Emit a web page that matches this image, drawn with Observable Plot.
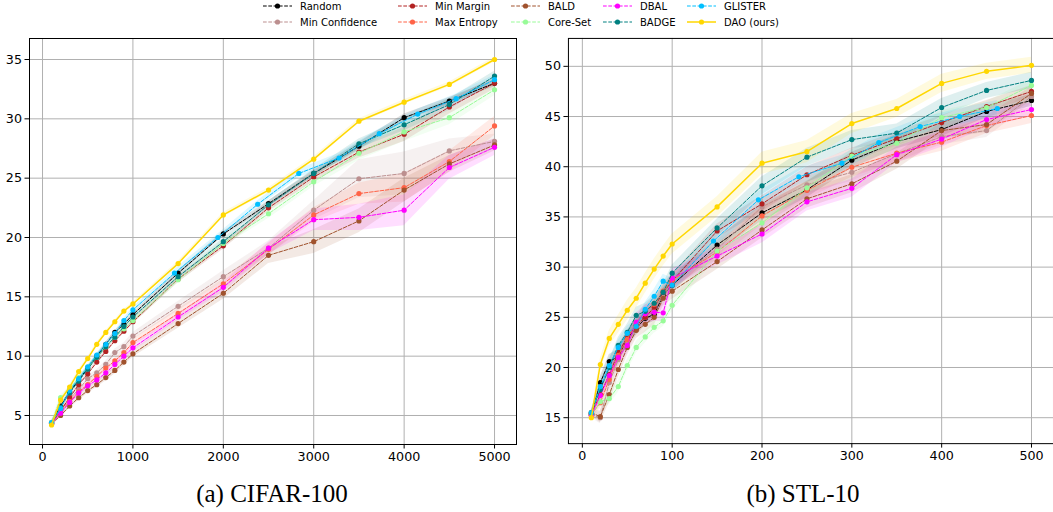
<!DOCTYPE html>
<html><head><meta charset="utf-8">
<script src="https://cdn.jsdelivr.net/npm/d3@7"></script>
<script src="https://cdn.jsdelivr.net/npm/@observablehq/plot@0.6"></script>
<style>
html,body{margin:0;padding:0;background:#fff;width:1053px;height:512px;overflow:hidden;}
#wrap{position:relative;width:1053px;height:512px;}
#legend{position:absolute;left:0;top:0;width:1053px;height:32px;font-family:"DejaVu Sans";font-size:10px;color:#000;z-index:2;}
.item{position:absolute;display:flex;align-items:center;white-space:nowrap;height:14px;}
.item span{margin-left:8px;}
.cap{position:absolute;font-family:"Liberation Serif";font-size:25px;line-height:30px;color:#000;white-space:nowrap;transform:translateX(-50%);top:479px;}
#c1{position:absolute;left:0;top:0;}
#c2{position:absolute;left:530px;top:0;}
</style>
</head><body>
<div id="wrap">
  <div id="c1"></div>
  <div id="c2"></div>
  <div id="legend"></div>
  <div class="cap" style="left:272px">(a) CIFAR-100</div>
  <div class="cap" style="left:803px">(b) STL-10</div>
</div>
<script>
// ---------- series names / colours ----------
const methods = ["Random","Min Confidence","Min Margin","Max Entropy","BALD","Core-Set","DBAL","BADGE","GLISTER","DAO (ours)"];
const colors  = ["#000000","#BC8F8F","#B22222","#FF6347","#A0522D","#98FB98","#FF00FF","#008080","#00BFFF","#FFD700"];

// ---------- CIFAR-100 ----------
const cifarBudget = [100,200,300,400,500,600,700,800,900,1000,1500,2000,2500,3000,3500,4000,4500,5000];
const cifarGlisterBudget = [100,200,300,400,500,600,700,800,900,1000,1460,1940,2380,2835,3280,3725,4150,4575,5000];
const cifarXTicks = [0,1000,2000,3000,4000,5000];
const cifarYTicks = [5,10,15,20,25,30,35];

const cifarRandom    = [4.4,5.8,7.0,8.0,9.0,10.0,11.0,12.0,12.7,13.5,17.0,20.3,22.85,25.4,27.7,30.1,31.5,33.0];
const cifarMinConf   = [4.4,5.5,6.4,7.2,8.1,8.6,9.3,10.3,10.8,11.7,14.2,16.7,19.1,22.3,24.95,25.4,27.3,28.1];
const cifarMinMargin = [4.3,5.4,6.5,7.6,8.5,9.5,10.4,11.3,12.1,12.9,16.5,19.3,22.5,25.1,27.2,28.7,31.0,33.0];
const cifarMaxEnt    = [4.3,5.3,6.2,7.0,7.6,8.3,9.0,9.6,10.3,11.15,13.6,16.1,19.0,21.9,23.7,24.2,26.4,29.4];
const cifarBald      = [4.3,5.0,5.8,6.5,7.1,7.6,8.2,8.8,9.5,10.2,12.75,15.3,18.5,19.65,21.4,24.0,26.2,27.8];
const cifarCoreSet   = [4.4,6.5,7.2,8.2,9.0,9.9,10.8,11.6,12.3,13.0,16.45,19.5,22.0,24.7,27.1,28.9,30.1,32.45];
const cifarDbal      = [4.3,5.2,6.1,6.9,7.5,8.0,8.6,9.3,10.0,10.7,13.3,15.8,19.1,21.5,21.7,22.3,25.9,27.6];
const cifarBadge     = [4.3,5.7,6.9,7.9,8.9,9.9,10.8,11.6,12.5,13.3,16.7,19.65,22.75,25.4,27.9,29.5,31.2,33.6];
const cifarGlister   = [4.4,5.6,7.1,8.1,9.1,10.1,11.0,11.9,13.0,13.9,17.0,20.0,22.8,25.4,26.7,28.75,30.4,31.7,33.3];
const cifarDao       = [4.2,6.3,7.4,8.7,9.8,11.0,12.0,12.9,13.8,14.4,17.8,21.9,24.0,26.6,29.8,31.4,32.9,35.0];

const cifarRandomSd    = [0.15,0.15,0.15,0.15,0.15,0.15,0.15,0.15,0.15,0.15,0.2,0.2,0.25,0.25,0.3,0.3,0.3,0.3];
const cifarMinConfSd   = [0.2,0.2,0.2,0.25,0.25,0.25,0.3,0.3,0.3,0.3,0.4,0.5,0.6,0.8,1.6,1.8,1.0,0.6];
const cifarMinMarginSd = [0.15,0.15,0.15,0.15,0.15,0.2,0.2,0.2,0.2,0.2,0.3,0.3,0.3,0.4,0.5,0.6,0.6,0.5];
const cifarMaxEntSd    = [0.2,0.2,0.2,0.2,0.2,0.25,0.25,0.25,0.3,0.3,0.4,0.4,0.5,0.6,0.9,1.2,0.9,0.8];
const cifarBaldSd      = [0.2,0.2,0.2,0.25,0.25,0.25,0.3,0.3,0.3,0.3,0.4,0.5,0.7,1.0,1.0,1.0,0.7,0.5];
const cifarCoreSetSd   = [0.2,0.2,0.2,0.2,0.2,0.2,0.2,0.2,0.25,0.25,0.3,0.3,0.4,0.4,0.6,0.8,0.6,0.5];
const cifarDbalSd      = [0.2,0.2,0.2,0.25,0.25,0.25,0.3,0.3,0.3,0.3,0.3,0.4,0.5,0.9,1.1,1.3,1.0,0.7];
const cifarBadgeSd     = [0.15,0.15,0.15,0.15,0.15,0.2,0.2,0.2,0.2,0.2,0.25,0.3,0.3,0.35,0.4,0.5,0.5,0.4];
const cifarGlisterSd   = [0.15,0.15,0.15,0.15,0.15,0.15,0.2,0.2,0.2,0.2,0.3,0.3,0.3,0.35,0.4,0.4,0.4,0.4,0.4];
const cifarDaoSd       = [0.15,0.15,0.15,0.15,0.15,0.15,0.15,0.15,0.15,0.15,0.2,0.2,0.2,0.2,0.2,0.2,0.2,0.2];

// ---------- STL-10 ----------
const stlBudget = [10,20,30,40,50,60,70,80,90,100,150,200,250,300,350,400,450,500];
const stlGlisterBudget = [10,20,30,40,50,60,70,80,90,100,146,196,241,289,330,376,420,462];
const stlXTicks = [0,100,200,300,400,500];
const stlYTicks = [15,20,25,30,35,40,45,50];

const stlRandom    = [15.3,18.5,20.6,21.1,22.9,23.9,24.9,25.3,27.2,28.2,32.2,35.4,37.7,40.65,42.5,43.7,45.5,46.6];
const stlMinConf   = [15.3,15.0,18.5,20.8,22.5,24.0,25.0,26.0,27.0,28.5,31.8,36.0,38.2,39.45,41.3,43.0,43.6,47.0];
const stlMinMargin = [15.4,17.3,19.3,21.5,23.0,24.2,25.0,26.0,27.5,28.6,33.6,36.3,39.2,41.15,42.8,44.4,46.0,47.5];
const stlMaxEnt    = [15.3,16.5,18.8,21.2,22.8,24.5,25.5,26.3,27.6,28.7,31.5,35.1,37.65,39.95,41.35,42.45,44.1,45.1];
const stlBald      = [15.5,15.1,17.3,19.8,22.0,23.7,24.3,25.0,26.9,27.6,30.55,33.7,36.8,38.3,40.55,43.6,44.2,47.3];
const stlCoreSet   = [15.3,16.6,16.9,18.1,20.2,22.0,23.05,24.0,24.65,26.2,31.6,34.4,37.9,41.05,42.35,44.9,45.9,48.1];
const stlDbal      = [15.2,17.2,19.2,21.0,22.2,24.5,25.35,25.5,25.45,28.9,31.1,33.3,36.5,37.85,41.2,42.75,44.7,45.7];
const stlBadge     = [15.5,17.8,20.0,22.2,23.5,25.2,25.6,26.4,27.5,29.4,33.9,38.1,40.95,42.7,43.35,45.9,47.6,48.6];
const stlGlister   = [15.5,18.1,20.2,22.0,23.4,24.1,25.8,27.1,28.6,28.2,32.6,36.7,39.0,40.35,42.4,44.0,45.0,45.8];
const stlDao       = [15.0,20.3,22.9,24.3,25.7,26.9,28.4,29.8,31.1,32.3,36.0,40.35,41.5,44.3,45.8,48.3,49.5,50.1];

const stlRandomSd    = [0.3,0.6,0.7,0.7,0.7,0.7,0.7,0.7,0.7,0.7,0.7,0.8,0.8,0.8,0.7,0.7,0.6,0.6];
const stlMinConfSd   = [0.3,0.6,0.7,0.8,0.8,0.8,0.8,0.8,0.8,0.8,0.8,0.9,0.9,0.9,0.8,0.8,0.7,0.7];
const stlMinMarginSd = [0.3,0.6,0.7,0.7,0.7,0.7,0.7,0.7,0.7,0.7,0.7,0.8,0.8,0.7,0.7,0.7,0.6,0.6];
const stlMaxEntSd    = [0.3,0.6,0.7,0.7,0.7,0.7,0.7,0.7,0.7,0.7,0.8,0.9,0.9,1.0,0.9,0.9,0.8,0.8];
const stlBaldSd      = [0.3,0.6,0.8,0.8,0.8,0.8,0.8,0.8,0.8,0.8,0.8,0.8,0.9,0.9,0.8,0.8,0.8,0.7];
const stlCoreSetSd   = [0.3,0.5,0.6,0.6,0.6,0.6,0.6,0.6,0.6,0.6,0.7,0.7,0.7,0.7,0.7,0.7,0.6,0.6];
const stlDbalSd      = [0.3,0.6,0.8,0.8,0.8,0.9,0.9,0.9,0.9,0.9,0.9,0.9,0.9,0.9,0.8,0.8,0.8,0.7];
const stlBadgeSd     = [0.3,0.6,0.7,0.8,0.8,0.8,0.8,0.8,0.8,0.8,0.9,0.9,0.9,0.9,0.9,0.9,0.8,0.8];
const stlGlisterSd   = [0.3,0.6,0.7,0.7,0.7,0.7,0.7,0.7,0.7,0.7,0.8,0.8,0.8,0.8,0.8,0.8,0.8,0.8];
const stlDaoSd       = [0.3,0.6,0.8,0.9,1.0,1.0,1.0,1.0,1.0,1.0,1.0,1.1,1.1,1.0,0.9,0.9,0.8,0.8];

// ---------- build series ----------
function mk(names, xs, ys, sds){
  return names.map((n,k)=>({
    name:n, color:colors[k], solid: n==="DAO (ours)",
    rows: xs[k].map((x,i)=>({x, y:ys[k][i], lo:ys[k][i]-sds[k][i], hi:ys[k][i]+sds[k][i], name:n}))
  }));
}
const cifarSeries = mk(methods,
  [cifarBudget,cifarBudget,cifarBudget,cifarBudget,cifarBudget,cifarBudget,cifarBudget,cifarBudget,cifarGlisterBudget,cifarBudget],
  [cifarRandom,cifarMinConf,cifarMinMargin,cifarMaxEnt,cifarBald,cifarCoreSet,cifarDbal,cifarBadge,cifarGlister,cifarDao],
  [cifarRandomSd,cifarMinConfSd,cifarMinMarginSd,cifarMaxEntSd,cifarBaldSd,cifarCoreSetSd,cifarDbalSd,cifarBadgeSd,cifarGlisterSd,cifarDaoSd]);
const stlSeries = mk(methods,
  [stlBudget,stlBudget,stlBudget,stlBudget,stlBudget,stlBudget,stlBudget,stlBudget,stlGlisterBudget,stlBudget],
  [stlRandom,stlMinConf,stlMinMargin,stlMaxEnt,stlBald,stlCoreSet,stlDbal,stlBadge,stlGlister,stlDao],
  [stlRandomSd,stlMinConfSd,stlMinMarginSd,stlMaxEntSd,stlBaldSd,stlCoreSetSd,stlDbalSd,stlBadgeSd,stlGlisterSd,stlDaoSd]);

function chart(series, opts){
  const marks = [
    Plot.gridX({ticks:opts.xTicks, stroke:"#b0b0b0", strokeOpacity:1, strokeWidth:1}),
    Plot.gridY({ticks:opts.yTicks, stroke:"#b0b0b0", strokeOpacity:1, strokeWidth:1}),
  ];
  for (const s of series){
    marks.push(Plot.areaY(s.rows, {x:"x", y1:"lo", y2:"hi", fill:s.color, fillOpacity:0.13}));
  }
  for (const s of series){
    marks.push(Plot.line(s.rows, {x:"x", y:"y", stroke:s.color, strokeWidth: s.solid?1.5:1,
      strokeDasharray: s.solid?null:"3.7,1.6"}));
    marks.push(Plot.dot(s.rows, {x:"x", y:"y", fill:s.color, r:2.6}));
  }
  marks.push(Plot.frame({stroke:"black", strokeWidth:1}));
  marks.push(Plot.axisX({ticks:opts.xTicks, tickFormat:"d", tickSize:4.5, tickPadding:3, label:null}));
  marks.push(Plot.axisY({ticks:opts.yTicks, tickFormat:"d", tickSize:4.5, tickPadding:3, label:null}));
  return Plot.plot({
    width:opts.width, height:470,
    marginLeft:opts.ml, marginRight:opts.mr, marginTop:38, marginBottom:26,
    x:{domain:opts.xDomain}, y:{domain:opts.yDomain},
    style:{fontFamily:"DejaVu Sans", fontSize:"12.7px", color:"black", background:"transparent", overflow:"visible"},
    marks
  });
}

document.getElementById("c1").appendChild(chart(cifarSeries, {
  width:530, ml:29, mr:14, xDomain:[-144,5243], yDomain:[2.556,36.77], xTicks:cifarXTicks, yTicks:cifarYTicks}));
document.getElementById("c2").appendChild(chart(stlSeries, {
  width:524, ml:38, mr:0, xDomain:[-15.5,524.5], yDomain:[12.415,52.78], xTicks:stlXTicks, yTicks:stlYTicks}));

// ---------- legend ----------
const legCols = [263, 398, 511, 603, 687];
const legRows = [6, 22];
const leg = document.getElementById("legend");
methods.forEach((n,k)=>{
  const col = Math.floor(k/2), row = k%2;
  const d = document.createElement("div");
  d.className = "item";
  d.style.left = legCols[col]+"px";
  d.style.top = (legRows[row]-7)+"px";
  const solid = n==="DAO (ours)";
  d.innerHTML = `<svg width="29" height="14"><line x1="0" x2="29" y1="7" y2="7" stroke="${colors[k]}" stroke-width="${solid?1.5:1}" ${solid?"":'stroke-dasharray="3.7,1.6"'}/><circle cx="14.5" cy="7" r="2.6" fill="${colors[k]}"/></svg><span>${n}</span>`;
  leg.appendChild(d);
});
</script>
</body></html>
